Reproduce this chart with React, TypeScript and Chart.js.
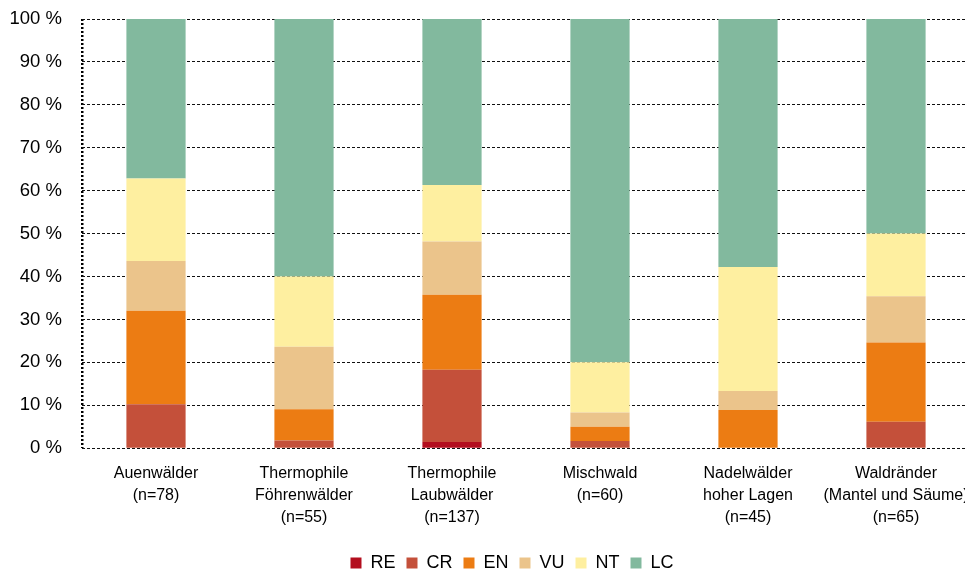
import React, { useEffect, useRef } from "react";
import { Chart, registerables } from "chart.js";

Chart.register(...registerables);

const categories: string[][] = [
  ["Auenwälder", "(n=78)"],
  ["Thermophile", "Föhrenwälder", "(n=55)"],
  ["Thermophile", "Laubwälder", "(n=137)"],
  ["Mischwald", "(n=60)"],
  ["Nadelwälder", "hoher Lagen", "(n=45)"],
  ["Waldränder", "(Mantel und Säume)", "(n=65)"],
];

const seriesNames = ["RE", "CR", "EN", "VU", "NT", "LC"];
const RE = [0, 0, 1.46, 0, 0, 0];
const CR = [10.26, 1.82, 16.79, 1.67, 0, 6.15];
const EN = [21.79, 7.27, 17.52, 3.33, 8.89, 18.46];
const VU = [11.54, 14.55, 12.41, 3.33, 4.44, 10.77];
const NT = [19.23, 16.36, 13.14, 11.67, 28.89, 14.62];
const LC = [37.18, 60, 38.69, 80, 57.78, 50];
const seriesColors = ["#B30E1E", "#C4503A", "#EC7C13", "#EBC48B", "#FEEFA0", "#82B99E"];
const yTicks = [0, 10, 20, 30, 40, 50, 60, 70, 80, 90, 100];

const FONT = "'Liberation Sans', Arial, Helvetica, sans-serif";

export default function App() {
  const ref = useRef<HTMLCanvasElement | null>(null);
  useEffect(() => {
    if (!ref.current) return;
    const values = [RE, CR, EN, VU, NT, LC];
    const chart = new Chart(ref.current, {
      type: "bar",
      data: {
        labels: categories as any,
        datasets: values.map((v, i) => ({
          label: seriesNames[i],
          data: v,
          backgroundColor: seriesColors[i],
          borderWidth: 0,
          categoryPercentage: 1,
          barPercentage: 0.4,
        })),
      },
      options: {
        responsive: false,
        animation: false,
        layout: { padding: { top: 19, bottom: 0, left: 0, right: 0 } },
        plugins: {
          tooltip: { enabled: false },
          legend: {
            position: "bottom",
            labels: {
              boxWidth: 11,
              boxHeight: 11,
              padding: 11,
              color: "#000",
              font: { family: FONT, size: 18 },
            },
          },
        },
        scales: {
          x: {
            stacked: true,
            grid: {
              display: true,
              drawTicks: false,
              color: "#000",
              lineWidth: (c: any) => (c.index === 0 ? 2.5 : 0),
            },
            border: { display: false, dash: [2, 2] },
            ticks: {
              color: "#000",
              font: { family: FONT, size: 16, lineHeight: 1.35 },
              padding: 15,
              maxRotation: 0,
              autoSkip: false,
            },
          },
          y: {
            stacked: true,
            min: 0,
            max: 100,
            afterFit: (s: any) => {
              s.width = 82;
              s.paddingTop = 0;
              s.paddingBottom = 0;
            },
            afterBuildTicks: (s: any) => { s.ticks = yTicks.map((v) => ({ value: v })); },
            grid: { color: "#111", lineWidth: 1, drawTicks: false },
            border: { display: false, dash: [3, 2] },
            ticks: {
              color: "#000",
              font: { family: FONT, size: 18.5 },
              padding: 20,
              callback: (v: any) => `${v} %`,
            },
          },
          yr: {
            position: "right",
            display: true,
            afterFit: (s: any) => { s.width = 54; },
            grid: { display: false, drawTicks: false },
            border: { display: false },
            ticks: { display: false },
          },
        },
      } as any,
    });
    return () => chart.destroy();
  }, []);
  return (
    <div style={{ position: "fixed", left: 0, top: 0, width: 965, height: 572, overflow: "hidden", background: "#fff" }}>
      <canvas ref={ref} width={1024} height={582} style={{ width: 1024, height: 582, display: "block" }} />
    </div>
  );
}
